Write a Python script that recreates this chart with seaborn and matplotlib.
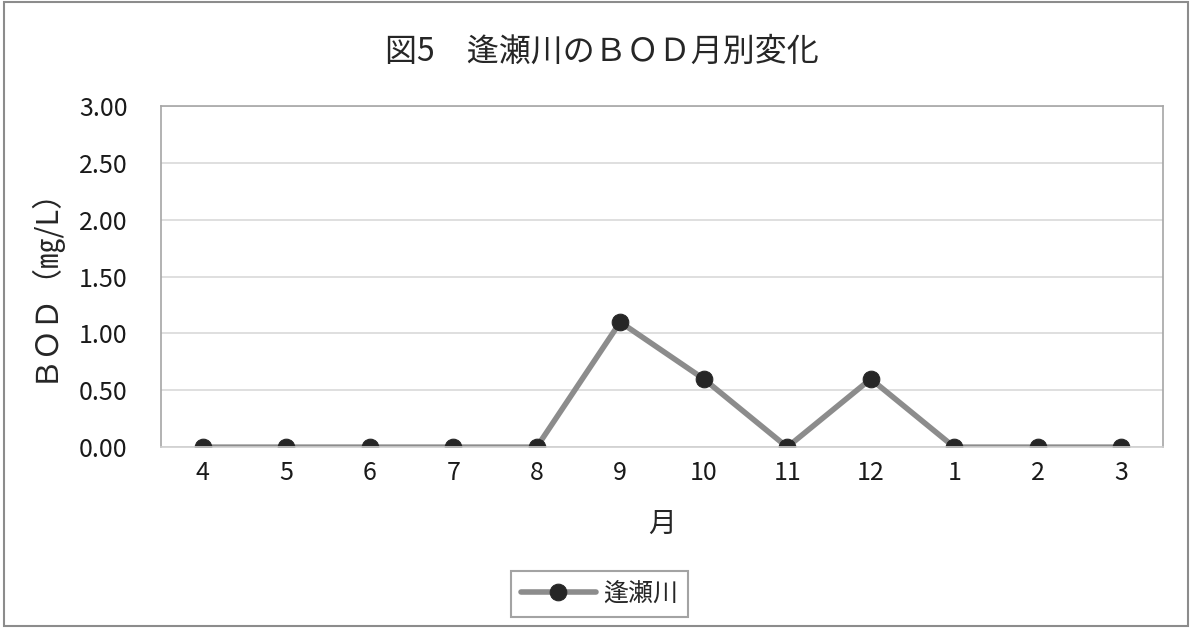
import matplotlib
matplotlib.use("Agg")
import matplotlib.pyplot as plt
import seaborn as sns
import pandas as pd

months = ["4", "5", "6", "7", "8", "9", "10", "11", "12", "1", "2", "3"]
bod = [0.0, 0.0, 0.0, 0.0, 0.0, 1.1, 0.6, 0.0, 0.6, 0.0, 0.0, 0.0]
series_name = "逢瀬川"

sns.set_theme(style="white")
plt.rcParams['font.family'] = ['Noto Sans CJK JP', 'DejaVu Sans']

df = pd.DataFrame({"月": months, "BOD": bod, "地点": series_name})

fig = plt.figure(figsize=(11.92, 6.28), dpi=100)
ax = fig.add_axes([0.135, 0.288, 0.8407, 0.543])

sns.lineplot(data=df, x="月", y="BOD", hue="地点", palette=["#8c8c8c"],
             linewidth=4, marker="o", markersize=12,
             markerfacecolor="#262626", markeredgecolor="#262626",
             sort=False, ax=ax)

ax.set_xlim(-0.5, len(months) - 0.5)
ax.set_ylim(0, 3.0)
ax.set_yticks([0, 0.5, 1.0, 1.5, 2.0, 2.5, 3.0])
ax.set_yticklabels([f"{v:.2f}" for v in [0, 0.5, 1.0, 1.5, 2.0, 2.5, 3.0]])
ax.yaxis.grid(True, color="#d9d9d9", linewidth=1.2)
ax.set_axisbelow(True)
ax.tick_params(axis="both", length=0, labelsize=18, colors="#1a1a1a")
ax.tick_params(axis="y", pad=24)
ax.tick_params(axis="x", pad=9)
for s in ax.spines.values():
    s.set_color("#a6a6a6")
    s.set_linewidth(1.2)
ax.spines["bottom"].set_color("#d0d0d0")

ax.set_xlabel("月", fontsize=20)
ax.xaxis.set_label_coords(0.5, -0.18)
ax.set_ylabel("ＢＯＤ（㎎/L）", fontsize=22)
ax.yaxis.set_label_coords(-0.102, 0.5)
fig.text(0.505, 0.917, "図5　逢瀬川のＢＯＤ月別変化", ha="center", va="center", fontsize=23)

ax.get_legend().remove()
handles, labels = ax.get_legend_handles_labels()
leg = fig.legend(handles, labels, loc="center", bbox_to_anchor=(0.503, 0.054),
                 bbox_transform=fig.transFigure, frameon=True,
                 fontsize=18, handlelength=3, handletextpad=0.3, borderpad=0.4)
leg.get_frame().set_edgecolor("#8c8c8c")
leg.get_frame().set_linewidth(1.5)
leg.get_frame().set_boxstyle("square", pad=0)

fig.patches.append(plt.Rectangle((0.003, 0.003), 0.994, 0.994, transform=fig.transFigure,
                                 fill=False, edgecolor="#8c8c8c", linewidth=1.5))

fig.savefig("out.png", dpi=100)
